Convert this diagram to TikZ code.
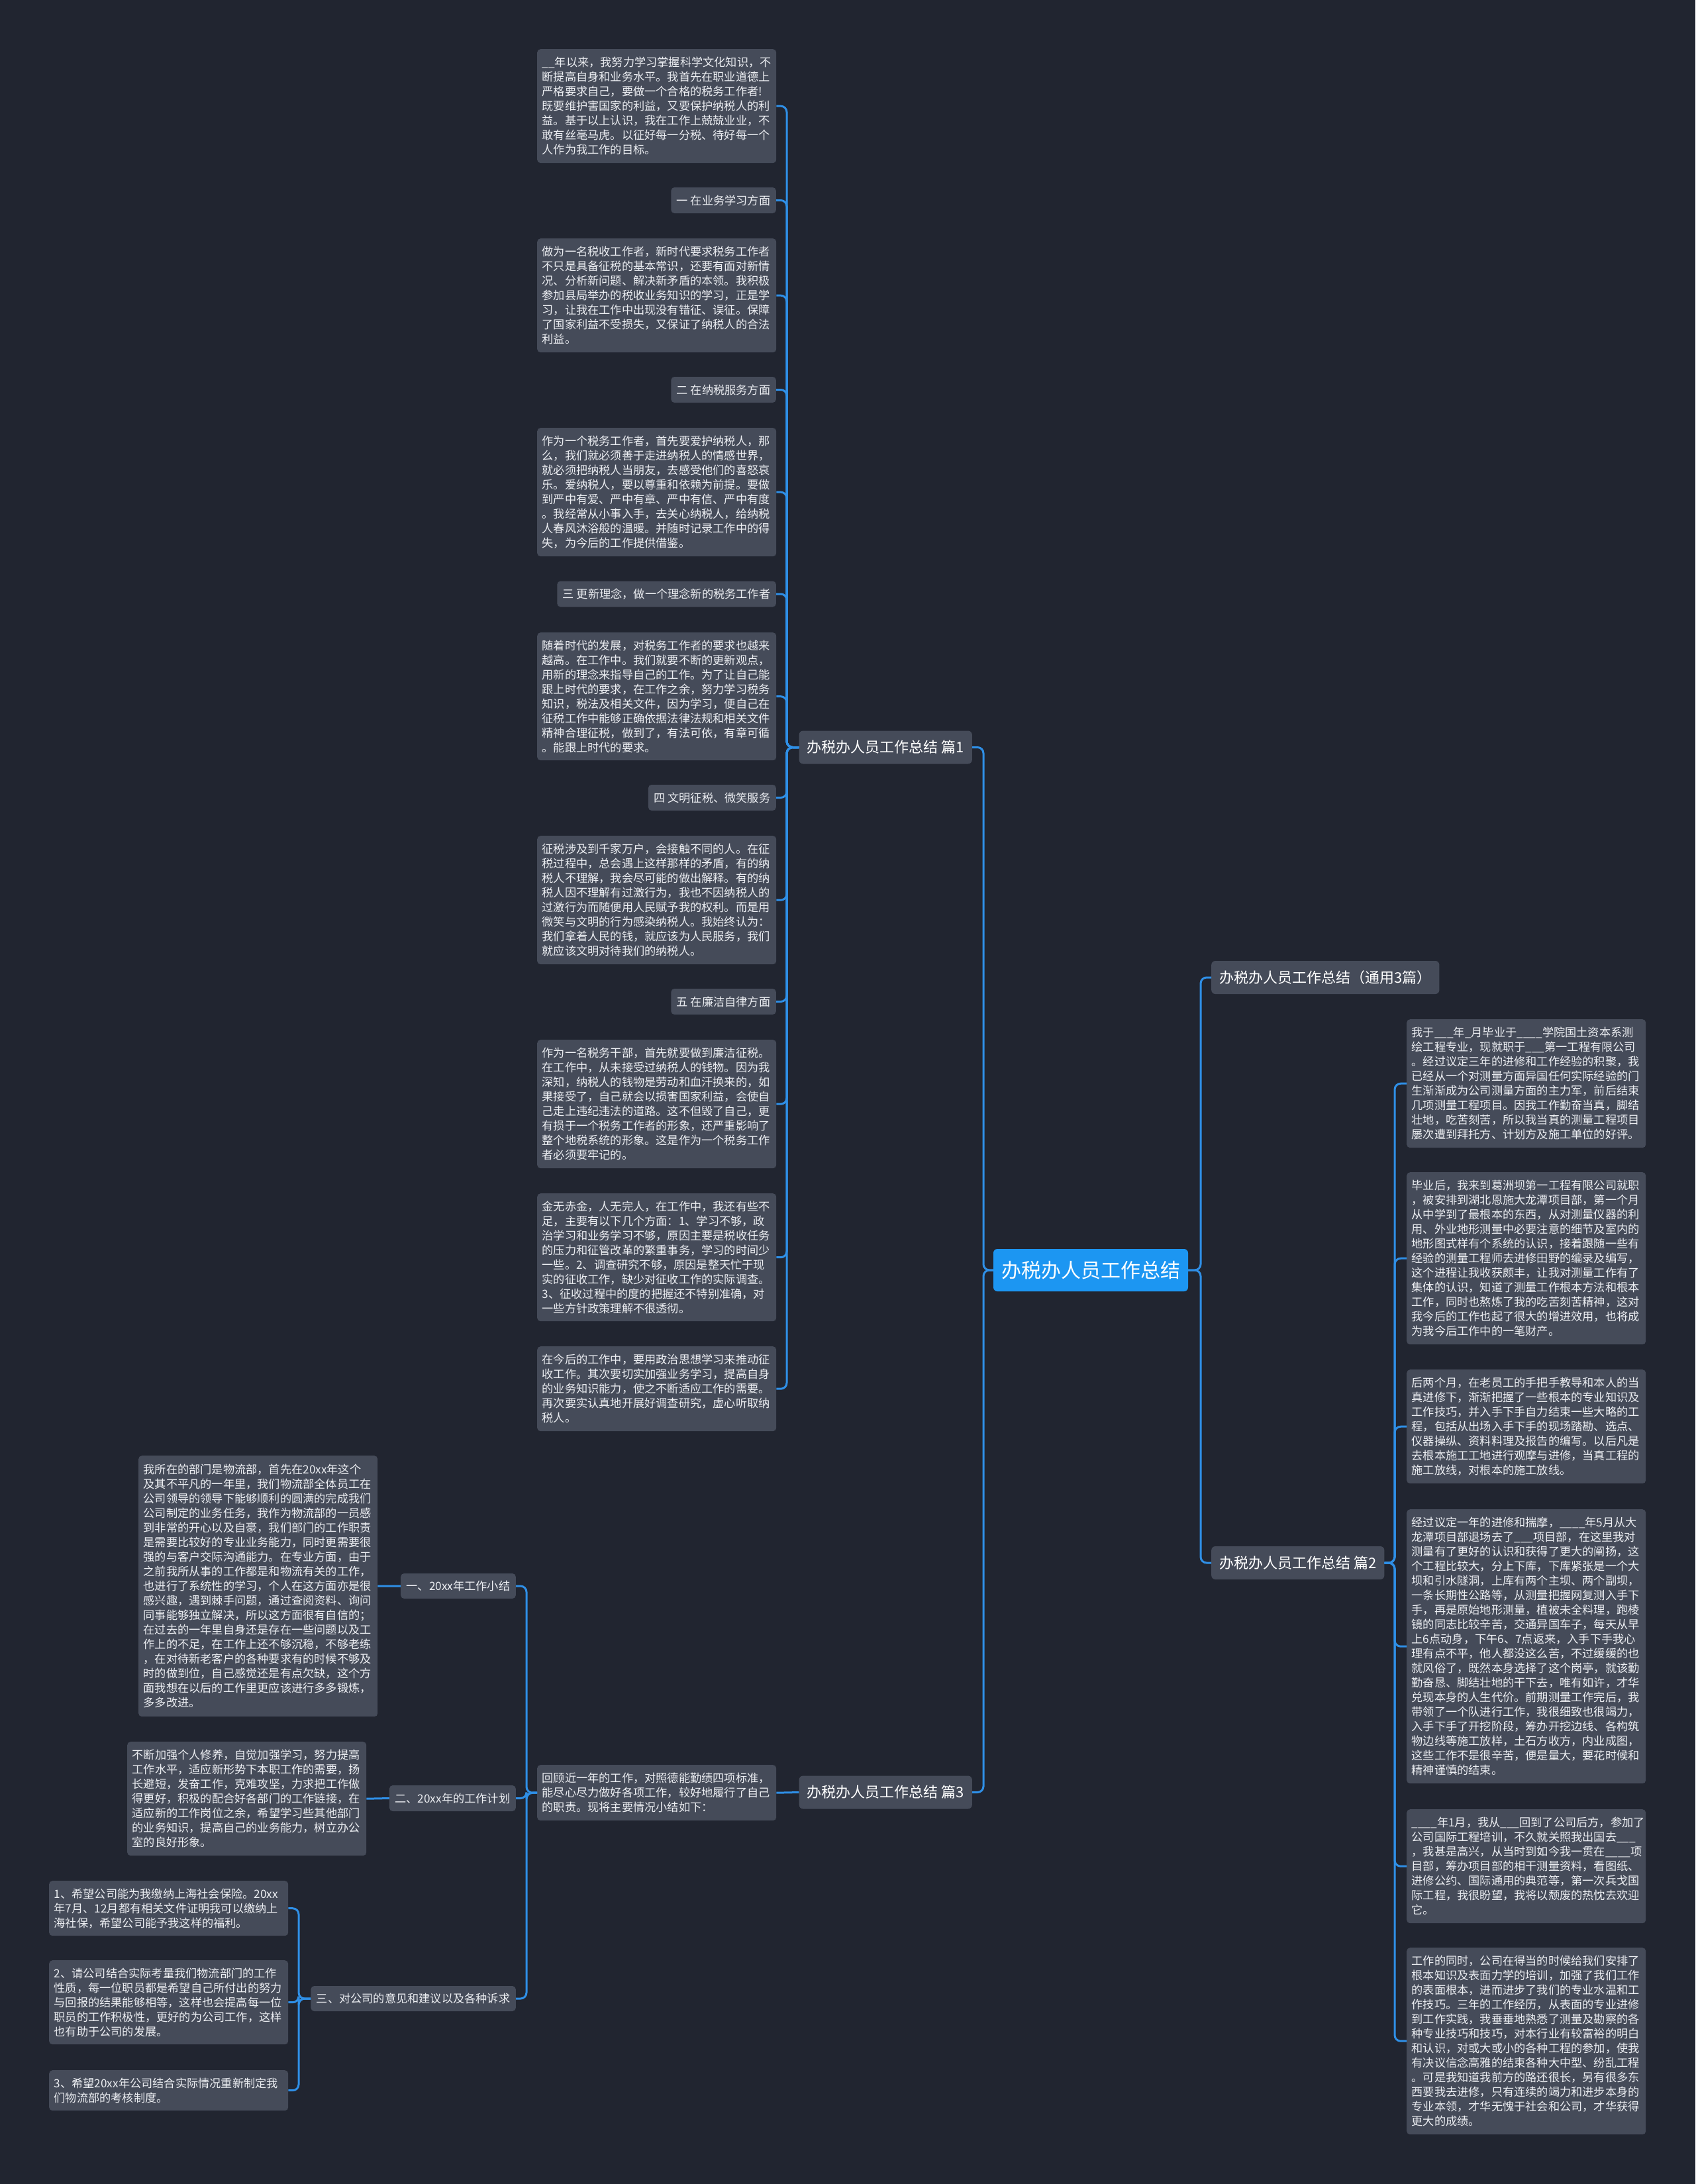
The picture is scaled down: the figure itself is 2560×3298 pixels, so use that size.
\documentclass[tikz,border=0pt]{standalone}
\usepackage{fontspec}
\setmainfont{Noto Sans CJK SC}
\definecolor{bgc}{HTML}{212530}
\definecolor{boxc}{HTML}{454B59}
\definecolor{linec}{HTML}{2F8FE6}
\definecolor{mainc}{HTML}{1C96F2}
\definecolor{txtc}{HTML}{ECEEF2}
\tikzset{
 body/.style={fill=boxc, rounded corners=5pt, text=txtc, font=\fontsize{17.2}{22}\selectfont, align=left, text width=346pt, inner xsep=7.5pt, inner ysep=0pt, anchor=north west},
 tag/.style={fill=boxc, rounded corners=5pt, text=txtc, font=\fontsize{17.2}{22}\selectfont, inner xsep=8.5pt, inner ysep=0pt, minimum height=39pt},
 topic/.style={fill=boxc, rounded corners=6pt, text=white, font=\fontsize{22}{26}\selectfont, inner xsep=12pt, inner ysep=0pt, minimum height=50pt},
 root/.style={fill=mainc, rounded corners=6pt, text=white, font=\fontsize{30}{34}\selectfont, inner sep=0pt, minimum width=294pt, minimum height=64pt},
 conn/.style={draw=linec, line width=3pt, rounded corners=9pt},
}
\begin{document}
\begin{tikzpicture}[x=1pt,y=-1pt]
\fill[bgc] (0,0) rectangle (2560,3298);
\useasboundingbox (0,0) rectangle (2560,3298);
\coordinate (s1) at (1188,0);
\coordinate (s2) at (2106,0);
\coordinate (s3) at (795,0);
\coordinate (s4) at (451,0);
\coordinate (s5) at (1485,0);
\coordinate (s6) at (1813,0);

% root and topics
\node[root] (m) at (1647,1918) {办税办人员工作总结};
\node[topic, anchor=east] (p1) at (1468,1128.5) {办税办人员工作总结 篇1};
\node[topic, anchor=east] (p3) at (1468,2706.5) {办税办人员工作总结 篇3};
\node[topic, anchor=west] (p0) at (1829,1476) {办税办人员工作总结（通用3篇）};
\node[topic, anchor=west] (p2) at (1829,2360) {办税办人员工作总结 篇2};

% 篇1 children
\node[body, minimum height=172pt] (a1) at (811,74) {\_\_年以来，我努力学习掌握科学文化知识，不\\断提高自身和业务水平。我首先在职业道德上\\严格要求自己，要做一个合格的税务工作者!\\既要维护害国家的利益，又要保护纳税人的利\\益。基于以上认识，我在工作上兢兢业业，不\\敢有丝毫马虎。以征好每一分税、待好每一个\\人作为我工作的目标。};
\node[tag, anchor=east] (a2) at (1172,302.5) {一 在业务学习方面};
\node[body, minimum height=172pt] (a3) at (811,360) {做为一名税收工作者，新时代要求税务工作者\\不只是具备征税的基本常识，还要有面对新情\\况、分析新问题、解决新矛盾的本领。我积极\\参加县局举办的税收业务知识的学习，正是学\\习，让我在工作中出现没有错征、误征。保障\\了国家利益不受损失，又保证了纳税人的合法\\利益。};
\node[tag, anchor=east] (a4) at (1172,588.5) {二 在纳税服务方面};
\node[body, minimum height=194pt] (a5) at (811,646) {作为一个税务工作者，首先要爱护纳税人，那\\么，我们就必须善于走进纳税人的情感世界，\\就必须把纳税人当朋友，去感受他们的喜怒哀\\乐。爱纳税人，要以尊重和依赖为前提。要做\\到严中有爱、严中有章、严中有信、严中有度\\。我经常从小事入手，去关心纳税人，给纳税\\人春风沐浴般的温暖。并随时记录工作中的得\\失，为今后的工作提供借鉴。};
\node[tag, anchor=east] (a6) at (1172,897) {三 更新理念，做一个理念新的税务工作者};
\node[body, minimum height=193pt] (a7) at (811,955) {随着时代的发展，对税务工作者的要求也越来\\越高。在工作中。我们就要不断的更新观点，\\用新的理念来指导自己的工作。为了让自己能\\跟上时代的要求，在工作之余，努力学习税务\\知识，税法及相关文件，因为学习，便自己在\\征税工作中能够正确依据法律法规和相关文件\\精神合理征税，做到了，有法可依，有章可循\\。能跟上时代的要求。};
\node[tag, anchor=east] (a8) at (1172,1204.5) {四 文明征税、微笑服务};
\node[body, minimum height=194pt] (a9) at (811,1262) {征税涉及到千家万户，会接触不同的人。在征\\税过程中，总会遇上这样那样的矛盾，有的纳\\税人不理解，我会尽可能的做出解释。有的纳\\税人因不理解有过激行为，我也不因纳税人的\\过激行为而随便用人民赋予我的权利。而是用\\微笑与文明的行为感染纳税人。我始终认为：\\我们拿着人民的钱，就应该为人民服务，我们\\就应该文明对待我们的纳税人。};
\node[tag, anchor=east] (a10) at (1172,1512.5) {五 在廉洁自律方面};
\node[body, minimum height=194pt] (a11) at (811,1570) {作为一名税务干部，首先就要做到廉洁征税。\\在工作中，从未接受过纳税人的钱物。因为我\\深知，纳税人的钱物是劳动和血汗换来的，如\\果接受了，自己就会以损害国家利益，会使自\\己走上违纪违法的道路。这不但毁了自己，更\\有损于一个税务工作者的形象，还严重影响了\\整个地税系统的形象。这是作为一个税务工作\\者必须要牢记的。};
\node[body, minimum height=193pt] (a12) at (811,1802) {金无赤金，人无完人，在工作中，我还有些不\\足，主要有以下几个方面：1、学习不够，政\\治学习和业务学习不够，原因主要是税收任务\\的压力和征管改革的繁重事务，学习的时间少\\一些。2、调查研究不够，原因是整天忙于现\\实的征收工作，缺少对征收工作的实际调查。\\3、征收过程中的度的把握还不特别准确，对\\一些方针政策理解不很透彻。};
\node[body, minimum height=128pt] (a13) at (811,2033) {在今后的工作中，要用政治思想学习来推动征\\收工作。其次要切实加强业务学习，提高自身\\的业务知识能力，使之不断适应工作的需要。\\再次要实认真地开展好调查研究，虚心听取纳\\税人。};

% 篇2 children
\node[body, minimum height=194pt] (b1) at (2124,1539) {我于\_\_\_年\_月毕业于\_\_\_\_学院国土资本系测\\绘工程专业，现就职于\_\_\_第一工程有限公司\\。经过议定三年的进修和工作经验的积聚，我\\已经从一个对测量方面异国任何实际经验的门\\生渐渐成为公司测量方面的主力军，前后结束\\几项测量工程项目。因我工作勤奋当真，脚结\\壮地，吃苦刻苦，所以我当真的测量工程项目\\屡次遭到拜托方、计划方及施工单位的好评。};
\node[body, minimum height=260pt] (b2) at (2124,1770) {毕业后，我来到葛洲坝第一工程有限公司就职\\，被安排到湖北恩施大龙潭项目部，第一个月\\从中学到了最根本的东西，从对测量仪器的利\\用、外业地形测量中必要注意的细节及室内的\\地形图式样有个系统的认识，接着跟随一些有\\经验的测量工程师去进修田野的编录及编写，\\这个进程让我收获颇丰，让我对测量工作有了\\集体的认识，知道了测量工作根本方法和根本\\工作，同时也熬炼了我的吃苦刻苦精神，这对\\我今后的工作也起了很大的增进效用，也将成\\为我今后工作中的一笔财产。};
\node[body, minimum height=172pt] (b3) at (2124,2068) {后两个月，在老员工的手把手教导和本人的当\\真进修下，渐渐把握了一些根本的专业知识及\\工作技巧，并入手下手自力结束一些大略的工\\程，包括从出场入手下手的现场踏勘、选点、\\仪器操纵、资料料理及报告的编写。以后凡是\\去根本施工工地进行观摩与进修，当真工程的\\施工放线，对根本的施工放线。};
\node[body, minimum height=414pt] (b4) at (2124,2279) {经过议定一年的进修和揣摩，\_\_\_\_年5月从大\\龙潭项目部退场去了\_\_\_项目部，在这里我对\\测量有了更好的认识和获得了更大的阐扬，这\\个工程比较大，分上下库，下库紧张是一个大\\坝和引水隧洞，上库有两个主坝、两个副坝，\\一条长期性公路等，从测量把握网复测入手下\\手，再是原始地形测量，植被未全料理，跑棱\\镜的同志比较辛苦，交通异国车子，每天从早\\上6点动身，下午6、7点返来，入手下手我心\\理有点不平，他人都没这么苦，不过缓缓的也\\就风俗了，既然本身选择了这个岗亭，就该勤\\勤奋恳、脚结壮地的干下去，唯有如许，才华\\兑现本身的人生代价。前期测量工作完后，我\\带领了一个队进行工作，我很细致也很竭力，\\入手下手了开挖阶段，筹办开挖边线、各构筑\\物边线等施工放样，土石方收方，内业成图，\\这些工作不是很辛苦，便是量大，要花时候和\\精神谨慎的结束。};
\node[body, minimum height=172pt] (b5) at (2124,2732) {\_\_\_\_年1月，我从\_\_\_回到了公司后方，参加了\\公司国际工程培训，不久就关照我出国去\_\_\_\\，我甚是高兴，从当时到如今我一贯在\_\_\_\_项\\目部，筹办项目部的相干测量资料，看图纸、\\进修公约、国际通用的典范等，第一次兵戈国\\际工程，我很盼望，我将以颓废的热忱去欢迎\\它。};
\node[body, minimum height=282pt] (b6) at (2124,2941) {工作的同时，公司在得当的时候给我们安排了\\根本知识及表面力学的培训，加强了我们工作\\的表面根本，进而进步了我们的专业水温和工\\作技巧。三年的工作经历，从表面的专业进修\\到工作实践，我垂垂地熟悉了测量及勘察的各\\种专业技巧和技巧，对本行业有较富裕的明白\\和认识，对或大或小的各种工程的参加，使我\\有决议信念高雅的结束各种大中型、纷乱工程\\。可是我知道我前方的路还很长，另有很多东\\西要我去进修，只有连续的竭力和进步本身的\\专业本领，才华无愧于社会和公司，才华获得\\更大的成绩。};

% 篇3 children
\node[body, minimum height=84pt] (c0) at (811,2665) {回顾近一年的工作，对照德能勤绩四项标准，\\能尽心尽力做好各项工作，较好地履行了自己\\的职责。现将主要情况小结如下：};
\node[tag, anchor=east, minimum height=38pt] (d1) at (779,2395) {一、20xx年工作小结};
\node[tag, anchor=east] (d2) at (779,2715.5) {二、20xx年的工作计划};
\node[tag, anchor=east, minimum height=38pt] (d3) at (779,3018) {三、对公司的意见和建议以及各种诉求};
\node[body, minimum height=394pt] (e1) at (209,2198) {我所在的部门是物流部，首先在20xx年这个\\及其不平凡的一年里，我们物流部全体员工在\\公司领导的领导下能够顺利的圆满的完成我们\\公司制定的业务任务，我作为物流部的一员感\\到非常的开心以及自豪，我们部门的工作职责\\是需要比较好的专业业务能力，同时更需要很\\强的与客户交际沟通能力。在专业方面，由于\\之前我所从事的工作都是和物流有关的工作，\\也进行了系统性的学习，个人在这方面亦是很\\感兴趣，遇到棘手问题，通过查阅资料、询问\\同事能够独立解决，所以这方面很有自信的；\\在过去的一年里自身还是存在一些问题以及工\\作上的不足，在工作上还不够沉稳，不够老练\\，在对待新老客户的各种要求有的时候不够及\\时的做到位，自己感觉还是有点欠缺，这个方\\面我想在以后的工作里更应该进行多多锻炼，\\多多改进。};
\node[body, minimum height=172pt] (e2) at (192,2630) {不断加强个人修养，自觉加强学习，努力提高\\工作水平，适应新形势下本职工作的需要，扬\\长避短，发奋工作，克难攻坚，力求把工作做\\得更好，积极的配合好各部门的工作链接，在\\适应新的工作岗位之余，希望学习些其他部门\\的业务知识，提高自己的业务能力，树立办公\\室的良好形象。};
\node[body, minimum height=83pt] (f1) at (74,2840) {1、希望公司能为我缴纳上海社会保险。20xx\\年7月、12月都有相关文件证明我可以缴纳上\\海社保，希望公司能予我这样的福利。};
\node[body, minimum height=127pt] (f2) at (74,2960) {2、请公司结合实际考量我们物流部门的工作\\性质，每一位职员都是希望自己所付出的努力\\与回报的结果能够相等，这样也会提高每一位\\职员的工作积极性，更好的为公司工作，这样\\也有助于公司的发展。};
\node[body, minimum height=61pt] (f3) at (74,3126) {3、希望20xx年公司结合实际情况重新制定我\\们物流部的考核制度。};

% connectors: root
\draw[conn] (m.west) -- (m.west -| s5) |- (p1.east);
\draw[conn] (m.west) -- (m.west -| s5) |- (p3.east);
\draw[conn] (m.east) -- (m.east -| s6) |- (p0.west);
\draw[conn] (m.east) -- (m.east -| s6) |- (p2.west);
% 篇1
\foreach \c in {a1,a2,a3,a4,a5,a6,a7,a8,a9,a10,a11,a12,a13}
  \draw[conn] (p1.west) -- (p1.west -| s1) |- (\c.east);
% 篇2
\foreach \c in {b1,b2,b3,b4,b5,b6}
  \draw[conn] (p2.east) -- (p2.east -| s2) |- (\c.west);
% 篇3
\draw[conn] (p3.west) -- (c0.east);
\foreach \c in {d1,d2,d3}
  \draw[conn] (c0.west) -- (c0.west -| s3) |- (\c.east);
\draw[conn] (d1.west) -- (e1.east);
\draw[conn] (d2.west) -- (e2.east);
\foreach \c in {f1,f2,f3}
  \draw[conn] (d3.west) -- (d3.west -| s4) |- (\c.east);
\end{tikzpicture}
\end{document}
